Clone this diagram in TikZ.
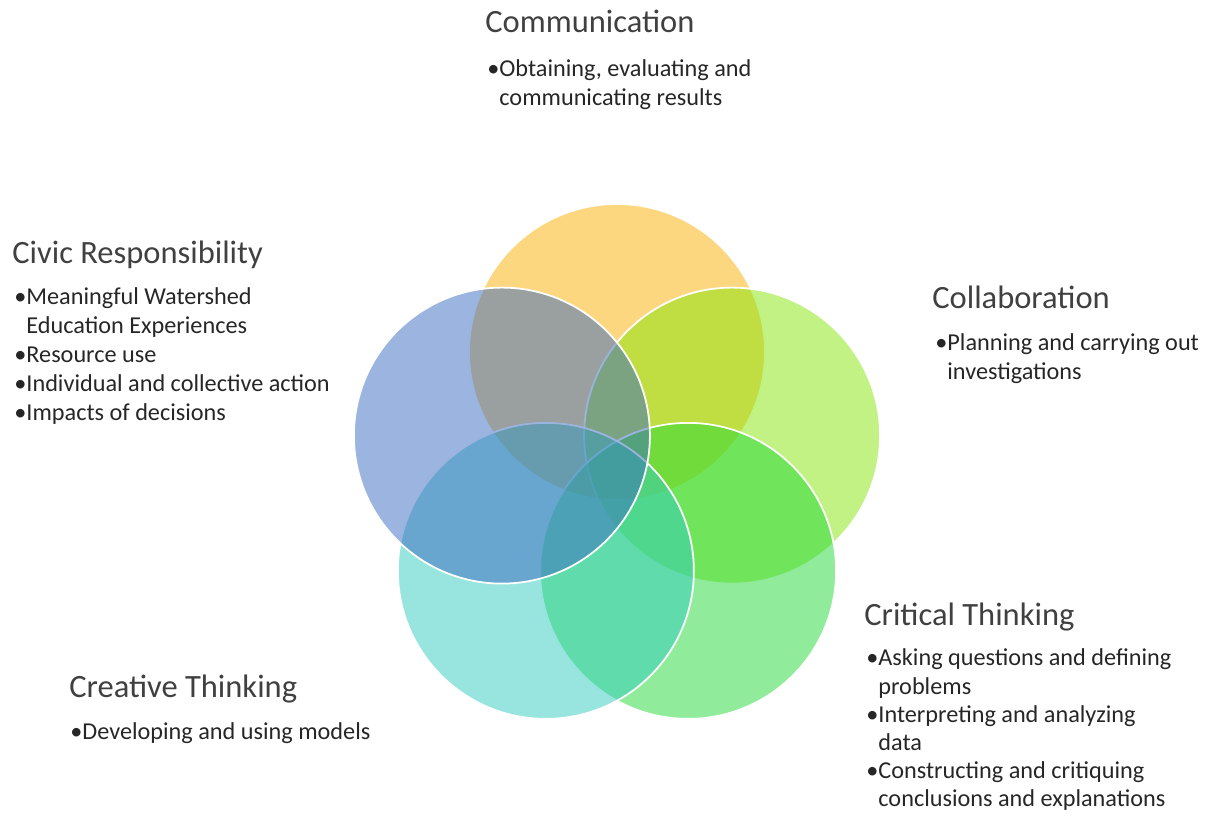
\documentclass[tikz,border=0pt]{standalone}
\usepackage{fontspec}
\setmainfont{Carlito}
\usepackage{tikz}
\usetikzlibrary{positioning}
\definecolor{vennyellow}{RGB}{251,175,0}
\definecolor{vennlime}{RGB}{131,229,7}
\definecolor{venngreen}{RGB}{33,217,53}
\definecolor{vennteal}{RGB}{49,203,191}
\definecolor{vennblue}{RGB}{57,105,193}
\definecolor{textgray}{rgb}{0.25, 0.25, 0.25}

\begin{document}
\begin{tikzpicture}[
		venn/.style={circle, minimum size=5.92cm, inner sep=0pt, fill opacity=0.5, draw=white, line width=1pt},
		heading/.style={anchor=base west, inner sep=0pt, text=textgray, font=\fontsize{18.5}{22}\selectfont},
		items/.style={inner sep=0pt, text=black!85, font=\fontsize{13.8}{16.5}\selectfont}]
		\useasboundingbox (-12.34,-6.86) rectangle (11.78,9.46);
		\foreach \ang/\col/\nm in {90/vennyellow/comm-c, 18/vennlime/collab-c, -54/venngreen/crit-c, -126/vennteal/creat-c, 162/vennblue/civic-c}{
			\node [venn, fill=\col] (\nm) at (\ang:2.42) {};
		}
		
		\node [heading] (comm) at (-2.64,8.80) {Communication};
		\node [items, below right=0.88cm and 0.04cm of comm.base west, anchor=base west] (comm-list)
			{\begin{tabular}[t]{@{}l@{}l@{}}\textbullet & Obtaining, evaluating and\\ & communicating results\end{tabular}};
		
		\node [heading] (civic) at (-12.10,4.18) {Civic Responsibility};
		\node [items, below right=0.82cm and 0.04cm of civic.base west, anchor=base west] (civic-list)
			{\begin{tabular}[t]{@{}l@{}l@{}}\textbullet & Meaningful Watershed\\ & Education Experiences\\
			\textbullet & Resource use\\ \textbullet & Individual and collective action\\ \textbullet & Impacts of decisions\end{tabular}};
		
		\node [heading] (collab) at (6.30,3.28) {Collaboration};
		\node [items, below right=0.84cm and 0.06cm of collab.base west, anchor=base west] (collab-list)
			{\begin{tabular}[t]{@{}l@{}l@{}}\textbullet & Planning and carrying out\\ & investigations\end{tabular}};
		
		\node [heading] (crit) at (4.94,-3.06) {Critical Thinking};
		\node [items, font=\fontsize{13.8}{16}\selectfont, below right=0.80cm and 0.04cm of crit.base west, anchor=base west] (crit-list)
			{\begin{tabular}[t]{@{}l@{}l@{}}\textbullet & Asking questions and defining\\ & problems\\
			\textbullet & Interpreting and analyzing\\ & data\\
			\textbullet & Constructing and critiquing\\ & conclusions and explanations\end{tabular}};
		
		\node [heading] (creat) at (-10.96,-4.50) {Creative Thinking};
		\node [items, below right=0.84cm and 0.02cm of creat.base west, anchor=base west] (creat-list)
			{\begin{tabular}[t]{@{}l@{}l@{}}\textbullet & Developing and using models\end{tabular}};
		
	\end{tikzpicture}
\end{document}
